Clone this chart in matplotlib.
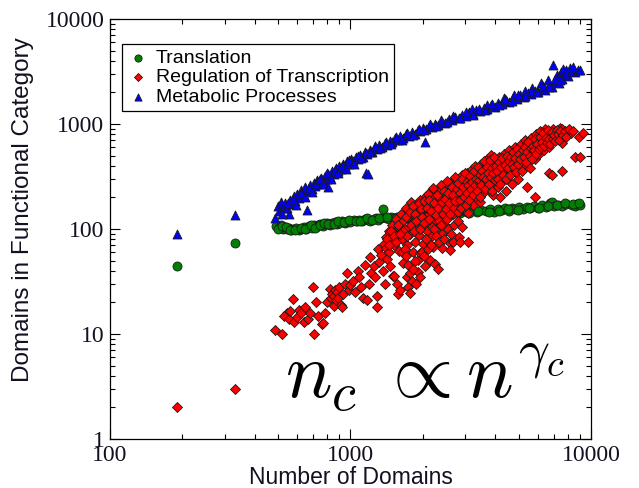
import matplotlib
matplotlib.use("Agg")
import matplotlib.pyplot as plt
import numpy as np
from matplotlib.ticker import LogLocator, NullFormatter

plt.rcParams['mathtext.fontset'] = 'cm'

# Translation (green circles)
trans_x = [190, 330, 490, 505, 515, 525, 535, 545, 555, 565, 580, 595, 610, 625, 640, 655,
           670, 690, 705, 720, 735, 750, 765, 780, 800, 820, 840, 860, 880, 900, 925, 950,
           975, 1000, 1030, 1060, 1090, 1120, 1150, 1180, 1210, 1250, 1280, 1300, 1340, 1370,
           1400, 1440, 1480, 1520, 1560, 1600, 1650, 1700, 1750, 1800, 1860, 1920, 1980, 2050,
           2120, 2200, 2280, 2360, 2450, 2550, 2650, 2750, 2850, 2950, 3050, 3200, 3350, 3500,
           3650, 3800, 3950, 4100, 4250, 4400, 4550, 4700, 4850, 5000, 5200, 5400, 5600, 5800,
           6000, 6250, 6500, 6750, 6900, 7000, 7300, 7600, 7900, 8300, 8570, 8700, 9000,
           500, 520, 540, 560, 590, 620, 650, 685, 715, 745, 775, 810, 850, 890, 940, 990,
           1050, 1100, 1170, 1230, 1310, 1420, 1540, 1680, 1830, 2000, 2180, 2400, 2600, 2800,
           3100, 3400, 3750, 4150, 4500, 4950, 5500, 6100, 6600, 7200, 7800, 8400, 8900]
trans_y = [44, 73, 106, 103, 108, 101, 104, 99, 102, 98, 100, 103, 97, 101, 104, 99,
           106, 103, 108, 105, 110, 112, 107, 111, 113, 109, 114, 117, 112, 115, 118, 114,
           119, 117, 121, 118, 122, 120, 124, 121, 119, 125, 128, 123, 126, 155,
           127, 124, 129, 126, 131, 128, 133, 130, 135, 132, 129, 136, 133, 138,
           134, 140, 136, 142, 138, 144, 140, 146, 142, 148, 144, 150, 146, 152,
           148, 154, 145, 156, 151, 158, 150, 160, 154, 162, 156, 163, 158, 166,
           160, 168, 162, 175, 180, 165, 171, 166, 172, 168, 167, 174, 171,
           100, 107, 104, 97, 98, 103, 101, 108, 102, 108, 114, 111, 112, 118, 116, 121,
           120, 118, 126, 122, 128, 130, 128, 135, 131, 137, 133, 140, 137, 145,
           141, 148, 144, 150, 155, 152, 160, 157, 165, 168, 176, 172, 176]

# Regulation of Transcription (red diamonds)
reg_x = [190, 330,
         485, 520, 545, 530, 555, 560, 577, 585, 600, 610, 625, 640, 650, 665, 680, 700, 705,
         720, 735, 760, 770, 780, 800, 820, 830, 840, 850, 855, 860, 870, 880, 890, 900, 910,
         920, 935, 950, 970, 985, 1000,
         1020, 1040, 1070, 1090, 1110, 1130, 1150, 1170, 1190, 1200, 1220, 1250, 1270, 1290,
         1290, 1300, 1320, 1340, 1360, 1380, 1390, 1400, 1410, 1420, 1440, 1450, 1460, 1470,
         1490, 1500, 1510, 1520, 1530, 1550, 1560, 1570, 1580, 1590, 1600, 1600,
         1620, 1640, 1650, 1660, 1680, 1700, 1710, 1720, 1730, 1740, 1760, 1770, 1790, 1800,
         1810, 1820, 1840, 1850, 1870, 1880, 1900, 1900, 1910, 1930, 1950, 1950, 1960, 1980,
         2000, 2010, 2040, 2050, 2060, 2080, 2100, 2120, 2140, 2150, 2170, 2180, 2200, 2200,
         2220, 2250, 2250, 2280, 2300, 2310, 2330, 2350, 2380, 2400,
         2410, 2430, 2460, 2480, 2500, 2520, 2540, 2560, 2580, 2580, 2600, 2620, 2650, 2670,
         2680, 2700, 2720, 2750, 2770, 2790, 2830, 2850, 2850, 2870, 2900, 2920, 2950, 2970,
         3000, 3020, 3050, 3070, 3080, 3100, 3130, 3160, 3190, 3220, 3250, 3280, 3300, 3330,
         3360, 3400, 3430, 3470, 3500, 3520, 3560, 3600, 3630, 3670, 3700, 3740, 3780, 3820,
         3840, 3870, 3910, 3950, 3980,
         4020, 4060, 4100, 4150, 4180, 4220, 4260, 4300, 4350, 4400, 4440, 4480, 4530, 4580,
         4620, 4670, 4720, 4770, 4820, 4870, 4900, 4950, 5000, 5060, 5120, 5180, 5240, 5300,
         5350, 5400, 5400, 5460, 5520, 5580, 5640, 5700, 5760, 5820, 5860, 5900, 5960, 6020,
         6080, 6150, 6220, 6300, 6380, 6450, 6520, 6600, 6700, 6700, 6800, 6900, 6950, 7050,
         7150, 7300, 7400, 7550, 7550, 7600, 7700, 8250, 8570,
         1650, 1700, 1720, 1760, 1780, 1820, 1830, 1860, 1880, 1920, 1940, 1970, 1990, 2020,
         2030, 2070, 2090, 2110, 2130, 2160, 2190, 2210, 2230, 2260, 2290, 2320, 2340, 2370,
         2390, 2420, 2440, 2470, 2490, 2510, 2530, 2550, 2570, 2600, 2630, 2660, 2690, 2710,
         2730, 2760, 2790, 2810, 2840, 2860, 2890, 2910, 2940, 2960, 2990, 3010, 3040, 3060,
         3090, 3110, 3140, 3170, 3200, 3230, 3260, 3290, 3320, 3350, 3380, 3410, 3440, 3460,
         3490, 3530, 3560, 3590, 3620, 3650, 3690, 3720, 3760, 3800, 3830, 3860, 3890, 3930,
         3960, 4000, 4040, 4080, 4120, 4160, 4200, 4240, 4280, 4320, 4370, 4410, 4460, 4500,
         4550, 4600, 4640, 4690, 4740, 4790, 4840, 4890, 4930, 4980, 5030, 5080, 5140, 5200,
         5260, 5310, 5370, 5430, 5490, 5550, 5610, 5670, 5730, 5790, 5850, 5920, 5980, 6050,
         6120, 6180, 6260, 6330, 6400, 6470, 6550, 6620, 6680, 6760, 6850, 6930, 7000, 7100,
         7200, 7280, 7350, 7450, 7650, 7800, 7900, 8100, 8400, 8900, 9000, 9300,
         1420, 1450, 1480, 1520, 1550, 1580, 1610, 1630, 1680, 1700, 1740, 1760, 1800, 1820,
         1850, 1870, 1940, 1980, 2020, 2060, 2100, 2170, 2220, 2260, 2340, 2380, 2450, 2550,
         2620, 2700, 2800, 2900]
reg_y = [2, 3,
         11, 10, 16, 15, 14, 16.5, 21.5, 13, 14.6, 17, 15.8, 13, 18, 14, 16, 28, 10,
         20, 15, 12.5, 12.7, 16, 20, 27, 22, 24, 23, 18.5, 26, 21, 25, 22, 28, 19,
         18, 24, 30, 38, 26, 29,
         32, 25, 40, 35, 28, 22, 45, 21, 30, 54, 38, 44, 35, 18,
         23, 65, 48, 56, 40, 72, 30, 84, 66, 52, 60, 95, 44, 78,
         110, 36, 70, 36, 90, 125, 30, 105, 24, 62, 26.5, 105,
         140, 80, 47, 120, 100, 160, 70, 35, 28, 130, 24.5, 90, 180, 115,
         152, 60, 135, 75, 105, 170, 39, 51, 125, 88, 59, 190, 145, 110,
         160, 72, 44, 130, 205, 95, 175, 140, 51, 115, 230, 85, 68, 200,
         155, 122, 46, 180, 42, 105, 240, 140, 195, 90,
         66, 165, 260, 125, 210, 105, 180, 150, 74, 63, 235, 280, 190, 76,
         140, 220, 165, 300, 292, 200, 84, 76, 250, 175, 330, 215, 155, 270,
         190, 240, 340, 76, 141, 300, 210, 260, 370, 170, 230, 310, 400, 200,
         280, 350, 250, 180, 420, 300, 220, 380, 270, 330, 460, 240, 300, 400,
         507, 350, 210, 280, 440,
         320, 380, 250, 485, 200, 350, 420, 290, 520, 380, 230, 450, 330, 560,
         400, 270, 490, 360, 600, 430, 530, 300, 470, 380, 640, 520, 420, 700,
         560, 250, 660, 470, 610, 380, 740, 540, 660, 460, 200, 800, 600, 700,
         520, 850, 640, 750, 560, 900, 700, 820, 340, 600, 780, 330, 890, 700,
         860, 760, 920, 890, 360, 660, 800, 820, 485,
         95, 130, 85, 145, 110, 165, 95, 140, 120, 175, 100, 155, 130, 185,
         115, 160, 215, 125, 190, 150, 105, 245, 175, 135, 210, 160, 120, 265,
         180, 140, 230, 195, 155, 285, 125, 220, 175, 140, 250, 210, 160, 310,
         185, 240, 145, 275, 220, 190, 160, 300, 250, 200, 345, 170, 280, 220,
         260, 190, 320, 240, 280, 210, 355, 260, 300, 230, 390, 290, 330, 200,
         260, 360, 310, 440, 240, 300, 390, 340, 270, 450, 310, 380, 230, 340,
         480, 290, 400, 360, 300, 430, 270, 390, 470, 330, 410, 300, 500, 380,
         440, 330, 480, 420, 540, 390, 470, 350, 580, 420, 520, 460, 360, 560,
         480, 600, 430, 540, 680, 500, 590, 460, 620, 560, 720, 520, 650, 580,
         760, 610, 680, 820, 620, 740, 660, 870, 720, 640, 830, 720, 780, 690,
         880, 800, 700, 850, 780, 860, 750, 900, 860, 760, 480, 820,
         80, 70, 95, 85, 75, 110, 90, 60, 65, 55, 45, 38, 32, 42,
         50, 30, 35, 60, 55, 80, 65, 70, 100, 85, 75, 110, 80, 100,
         90, 110, 120, 105]

# Metabolic Processes (blue triangles)
met_x = [190, 330, 485, 500, 505, 515, 525, 535, 545, 555, 560, 570, 580, 590, 600, 612,
         625, 638, 650, 660, 665, 678, 690, 702, 715, 728, 740, 755, 768, 780, 795, 805,
         810, 825, 840, 855, 870, 885, 900, 915, 930, 950, 965, 985, 1005, 1025, 1050,
         1075, 1100, 1125, 1150, 1165, 1175, 1185, 1200, 1230, 1260, 1290, 1320, 1350,
         1385, 1420, 1455, 1490, 1530, 1570, 1610, 1650, 1700, 1750, 1800, 1850, 1900,
         1950, 2000, 2040, 2060, 2120, 2180, 2250, 2320, 2400, 2480, 2560, 2640, 2730,
         2820, 2920, 3020, 3120, 3230, 3340, 3460, 3580, 3710, 3840, 3980, 4120, 4270,
         4420, 4580, 4740, 4910, 5080, 5260, 5450, 5640, 5840, 6040, 6250, 6460, 6680,
         6900, 6950, 7100, 7200, 7330, 7500, 7560, 7800, 7900, 8050, 8180, 8570, 7650,
         6600, 6200, 5700, 5300, 4800, 4350, 3700, 3200,
         520, 550, 575, 595, 620, 645, 670, 695, 720, 745, 770, 800, 830, 860, 890, 920,
         955, 990, 1030, 1070, 1110, 1160, 1210, 1270, 1330, 1400, 1470, 1550, 1630, 1720,
         1820, 1920, 2020, 2140, 2260, 2380, 2520, 2680, 2850, 3030, 3220, 3420, 3640, 3880,
         4130, 4400, 4680, 4980, 5300, 5620, 5960, 6320, 6700, 7080, 7450, 7850, 8300, 8800,
         8450, 9000]
met_y = [90, 135, 127, 165, 148, 180, 160, 175, 158, 140, 190, 172, 205, 185, 215, 198,
         235, 210, 250, 152, 228, 262, 240, 275, 255, 290, 268, 305, 285, 320, 300, 250,
         335, 315, 355, 335, 380, 360, 395, 375, 415, 395, 440, 420, 460, 440, 485,
         465, 510, 490, 540, 345, 520, 335, 570, 545, 600, 575, 630, 605,
         660, 635, 695, 670, 730, 705, 765, 740, 800, 775, 835, 810, 875,
         850, 915, 675, 890, 960, 935, 1000, 975, 1050, 1025, 1105, 1080, 1160,
         1130, 1220, 1190, 1290, 1255, 1360, 1320, 1430, 1390, 1510, 1465, 1590, 1545,
         1680, 1630, 1770, 1720, 1870, 1815, 1970, 1910, 2080, 2010, 2200, 2130, 2350,
         2270, 3650, 2500, 2950, 2430, 3150, 2680, 2900, 3300, 2850, 3400, 3130, 3350,
         2600, 2450, 2200, 2050, 1900, 1750, 1520, 1380,
         140, 175, 195, 170, 220, 200, 245, 225, 270, 300, 270, 340, 300, 365, 345, 400,
         370, 450, 420, 500, 470, 530, 540, 620, 590, 670, 640, 750, 710, 820,
         790, 900, 870, 1000, 950, 1080, 1050, 1180, 1150, 1300, 1230, 1400, 1350, 1560,
         1500, 1730, 1660, 1900, 1840, 2080, 2000, 2300, 2250, 2700, 2600, 3050, 3200, 3250,
         3500, 3300]

fig = plt.figure(figsize=(6.39, 4.88), dpi=100)
ax = fig.add_axes([0.172, 0.1004, 0.753, 0.8607])

ax.scatter(trans_x, trans_y, s=42, marker='o', c='#008000', edgecolors='#1a1a1a',
           linewidths=0.6, label='Translation', zorder=2)
ax.scatter(reg_x, reg_y, s=26, marker='D', c='#ff0000', edgecolors='#1a1a1a',
           linewidths=0.6, label='Regulation of Transcription', zorder=3)
ax.scatter(met_x, met_y, s=42, marker='^', c='#0000ff', edgecolors='#1a1a1a',
           linewidths=0.6, label='Metabolic Processes', zorder=4)

ax.set_xscale('log')
ax.set_yscale('log')
ax.set_xlim(100, 10000)
ax.set_ylim(1, 10000)

tick_font = {'family': 'Liberation Serif', 'size': 17}
ax.set_xticks([100, 1000, 10000])
ax.set_xticklabels(['100', '1000', '10000'], fontdict=tick_font, color='#111122')
ax.set_yticks([1, 10, 100, 1000, 10000])
ax.set_yticklabels(['1', '10', '100', '1000', '10000'], fontdict=tick_font, color='#111122')
ax.xaxis.set_minor_locator(LogLocator(base=10, subs=np.arange(2, 10)))
ax.yaxis.set_minor_locator(LogLocator(base=10, subs=np.arange(2, 10)))
ax.xaxis.set_minor_formatter(NullFormatter())
ax.yaxis.set_minor_formatter(NullFormatter())
ax.tick_params(which='both', direction='in', top=True, right=True, width=0.8)
ax.tick_params(which='major', length=7, pad=4)
ax.tick_params(which='minor', length=3.5)
for sp in ax.spines.values():
    sp.set_linewidth(0.9)

ax.set_xlabel('Number of Domains', family='Liberation Sans', fontsize=16.5,
              color='#111122', labelpad=0)
ax.set_ylabel('Domains in Functional Category', family='Liberation Sans', fontsize=17.5,
              color='#111122')
ax.yaxis.set_label_coords(-0.158, 0.545)

ax.text(535, 2.45, r'$n_c\;\propto n^{\gamma_c}$', fontsize=56, va='baseline', ha='left')

leg = ax.legend(loc='upper left', bbox_to_anchor=(0.025, 0.94), borderaxespad=0,
                frameon=True, fancybox=False, edgecolor='black', framealpha=1,
                prop={'family': 'Liberation Sans', 'size': 14}, handletextpad=0.3,
                labelspacing=0.1, borderpad=0.25, handlelength=1.2, scatterpoints=1,
                markerscale=0.8)
leg.get_frame().set_linewidth(0.9)

fig.savefig('out.png', dpi=100)
